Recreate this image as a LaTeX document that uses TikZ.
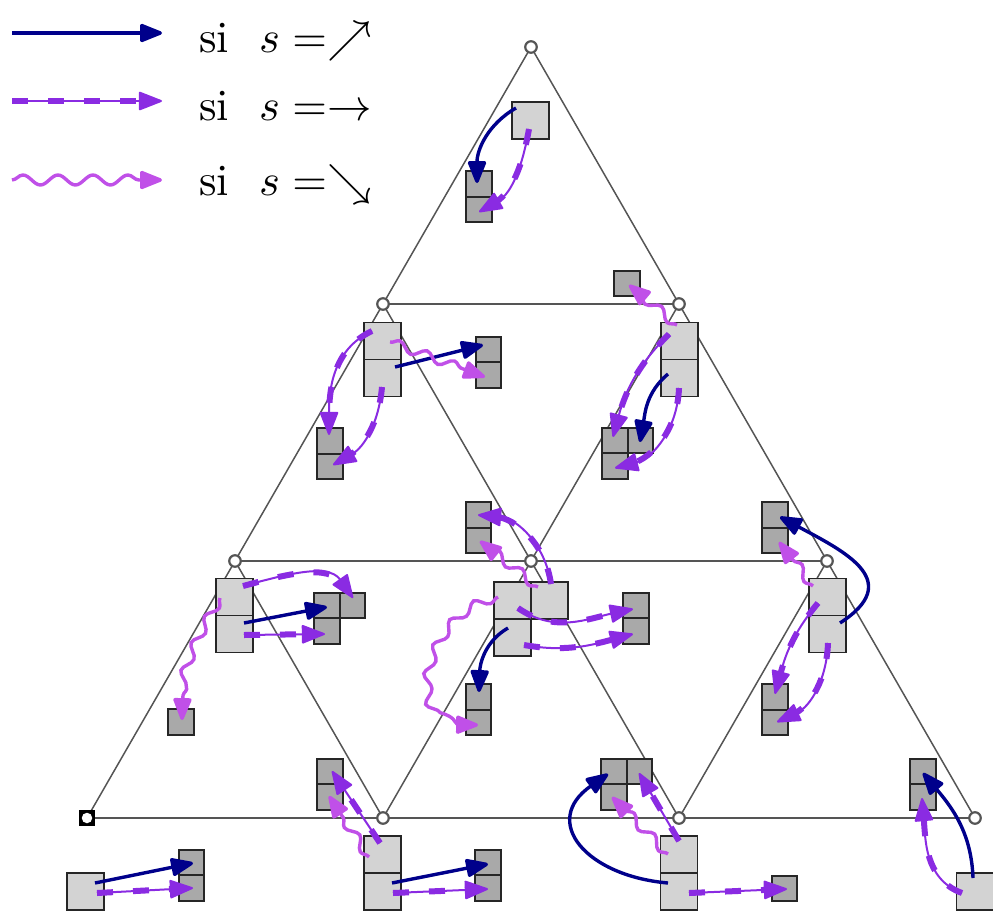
\documentclass[tikz,border=0pt]{standalone}
\usetikzlibrary{arrows.meta,decorations.pathmorphing,calc}
\definecolor{navyc}{HTML}{00008B}
\definecolor{dashc}{HTML}{8A2BE2}
\definecolor{wavec}{HTML}{C050E8}
\definecolor{lightc}{HTML}{D3D3D3}
\definecolor{darkc}{HTML}{A9A9A9}
\definecolor{gridc}{HTML}{555555}
\newcommand{\bigtxt}[1]{\scalebox{4.45}{\normalsize #1}}
\begin{document}
\begin{tikzpicture}[x=1pt,y=-1pt,
  vtx/.style={circle,draw=gridc,fill=white,line width=2.2pt,minimum size=11.5pt,inner sep=0pt},
  gridline/.style={draw=gridc,line width=1.5pt},
  lc/.style={rectangle,draw=black!85,fill=lightc,line width=1.6pt,minimum size=37pt,inner sep=0pt},
  dc/.style={rectangle,draw=black!85,fill=darkc,line width=1.6pt,minimum size=25.5pt,inner sep=0pt},
  solidarrow/.style={draw=navyc,line width=3.4pt,-{Triangle[length=25pt,width=19pt,round]}},
  dasharrow/.style={draw=dashc,line width=2pt,-{Triangle[length=25pt,width=19pt,round]},
     postaction={draw=dashc,line width=6pt,dash pattern=on 16pt off 20pt,shorten >=17pt,-}},
  wavearrow/.style={draw=wavec,line width=3.4pt,-{Triangle[length=25pt,width=19pt,round]},decorate,
     decoration={snake,amplitude=4.5pt,segment length=29pt,post length=12pt}},
  legtext/.style={anchor=base west,inner sep=0pt}
]
\useasboundingbox (0,0) rectangle (993,913);

% ---------- legend ----------
\coordinate (l1s) at (12,33);  \coordinate (l1e) at (162,33);
\coordinate (l2s) at (12,101); \coordinate (l2e) at (162,101);
\coordinate (l3s) at (12,180); \coordinate (l3e) at (162,180);
\draw[solidarrow] (l1s) -- (l1e);
\draw[dasharrow] (l2s) -- (l2e);
\draw[wavearrow,decoration={snake,amplitude=5pt,segment length=35pt,post length=14pt}] (l3s) -- (l3e);
\node[legtext] (t1) at (199,52) {\bigtxt{si}};
\node[legtext] (m1) at (259,52) {\bigtxt{$s=\nearrow$}};
\node[legtext] (t2) at (199,120) {\bigtxt{si}};
\node[legtext] (m2) at (259,120) {\bigtxt{$s=\rightarrow$}};
\node[legtext] (t3) at (199,195) {\bigtxt{si}};
\node[legtext] (m3) at (259,195) {\bigtxt{$s=\searrow$}};

% ---------- grid ----------
\coordinate (p1) at (531,47);
\coordinate (p2) at (383,304);
\coordinate (p3) at (679,304);
\coordinate (p4) at (235,561);
\coordinate (p5) at (531,561);
\coordinate (p6) at (827,561);
\coordinate (p7) at (87,818);
\coordinate (p8) at (383,818);
\coordinate (p9) at (679,818);
\coordinate (p10) at (975,818);
\draw[gridline] (p2) -- (p3) (p4) -- (p5) -- (p6) (p7) -- (p8) -- (p9) -- (p10);
\draw[gridline] (p1) -- (p2) -- (p4) -- (p7) (p3) -- (p5) -- (p8) (p6) -- (p9);
\draw[gridline] (p1) -- (p3) -- (p6) -- (p10) (p2) -- (p5) -- (p9) (p4) -- (p8);
\node[vtx] (v1) at (p1) {};
\node[vtx] (v2) at (p2) {};
\node[vtx] (v3) at (p3) {};
\node[vtx] (v4) at (p4) {};
\node[vtx] (v5) at (p5) {};
\node[vtx] (v6) at (p6) {};
\node[fill=black,minimum size=16pt,inner sep=0pt] (v7sq) at (p7) {};
\node[circle,fill=white,minimum size=10.5pt,inner sep=0pt] (v7) at (p7) {};
\node[vtx] (v8) at (p8) {};
\node[vtx] (v9) at (p9) {};
\node[vtx] (v10) at (p10) {};

% ---------- cells ----------
\node[lc] (LA) at (530.5,120.5) {};
\node[dc] (DA1) at (479,184) {};
\node[dc] (DA2) at (479,209.5) {};
\node[lc] (LB1) at (382.5,341) {};
\node[lc] (LB2) at (382.5,378) {};
\node[dc] (DBL1) at (330,441) {};
\node[dc] (DBL2) at (330,466.5) {};
\node[dc] (DBR1) at (488.5,349.5) {};
\node[dc] (DBR2) at (488.5,375) {};
\node[lc] (LC1) at (679.5,341) {};
\node[lc] (LC2) at (679.5,378) {};
\node[dc] (DC0) at (627,283.5) {};
\node[dc] (DC1) at (615,440.5) {};
\node[dc] (DC2) at (640.5,440.5) {};
\node[dc] (DC3) at (615,466) {};
\node[lc] (LD1) at (234.5,597) {};
\node[lc] (LD2) at (234.5,634) {};
\node[dc] (DD1) at (327,605.5) {};
\node[dc] (DD2) at (352.5,605.5) {};
\node[dc] (DD3) at (327,631) {};
\node[dc] (DD0) at (181,722) {};
\node[lc] (LE1) at (512.5,600.5) {};
\node[lc] (LE2) at (549.5,600.5) {};
\node[lc] (LE3) at (512.5,637.5) {};
\node[dc] (DE1) at (478.5,515) {};
\node[dc] (DE2) at (478.5,540.5) {};
\node[dc] (DE3) at (478.5,697) {};
\node[dc] (DE4) at (478.5,722.5) {};
\node[dc] (DE5) at (636,605.5) {};
\node[dc] (DE6) at (636,631) {};
\node[lc] (LF1) at (827.5,597) {};
\node[lc] (LF2) at (827.5,634) {};
\node[dc] (DF1) at (775,515) {};
\node[dc] (DF2) at (775,540.5) {};
\node[dc] (DF3) at (775,697) {};
\node[dc] (DF4) at (775,722.5) {};
\node[lc] (LG) at (85.5,891.5) {};
\node[dc] (DG1) at (191.5,862.5) {};
\node[dc] (DG2) at (191.5,888) {};
\node[lc] (LH1) at (382.5,854.5) {};
\node[lc] (LH2) at (382.5,891.5) {};
\node[dc] (DH1) at (330,771.5) {};
\node[dc] (DH2) at (330,797) {};
\node[dc] (DH3) at (488,862.5) {};
\node[dc] (DH4) at (488,888) {};
\node[lc] (LI1) at (679,854.5) {};
\node[lc] (LI2) at (679,891.5) {};
\node[dc] (DI1) at (614,771.5) {};
\node[dc] (DI2) at (639.5,771.5) {};
\node[dc] (DI3) at (614,797) {};
\node[dc] (DI0) at (784.5,888.5) {};
\node[lc] (LJ) at (975,891.5) {};
\node[dc] (DJ1) at (923,771.5) {};
\node[dc] (DJ2) at (923,797) {};

% ---------- arrows ----------
% A
\draw[solidarrow] ($(LA)+(-14.5,-12.5)$) to[out=210,in=90] ($(DA1)+(-2,-1)$);
\draw[dasharrow] ($(LA)+(-1.5,8.5)$) to[out=260,in=30] ($(DA2)+(0,2.5)$);
% B
\draw[dasharrow] ($(LB1)+(-10.5,-10)$) to[out=205,in=90] ($(DBL1)+(-1,-6)$);
\draw[dasharrow] ($(LB2)+(-0.5,9)$) to[out=265,in=30] ($(DBL2)+(3,-1.5)$);
\draw[solidarrow] ($(LB2)+(12.5,-11)$) -- ($(DBR1)+(-5.5,-4.5)$);
\draw[wavearrow] ($(LB1)+(7.5,1)$) -- ($(DBR2)+(-3.5,2)$);
% C
\draw[wavearrow] ($(LC1)+(-2.5,-16)$) -- ($(DC0)+(2,1.5)$);
\draw[dasharrow] ($(LC1)+(-10.5,-7)$) to[out=225,in=75] ($(DC1)+(-2,-3.5)$);
\draw[solidarrow] ($(LC2)+(-11.5,-4)$) to[out=220,in=80] ($(DC2)+(-0.5,1.5)$);
\draw[dasharrow] ($(LC2)+(-0.5,10)$) to[out=268,in=15] ($(DC3)+(0,2)$);
% D
\draw[dasharrow] ($(LD1)+(8.5,-11)$) to[out=15,in=125] ($(DD2)+(0.5,-7.5)$);
\draw[solidarrow] ($(LD2)+(9.5,-11)$) -- ($(DD1)+(0,1.5)$);
\draw[dasharrow] ($(LD2)+(9.5,1)$) -- ($(DD3)+(-2,3)$);
\draw[wavearrow] ($(LD1)+(-14.5,1)$) to[out=240,in=90] ($(DD0)+(1,-2)$);
% E
\draw[dasharrow] ($(LE2)+(1.5,-16.5)$) to[out=98,in=-5] ($(DE1)+(-0.5,0)$);
\draw[wavearrow] ($(LE2)+(-11.5,-13.5)$) -- ($(DE2)+(1.5,0.5)$);
\draw[wavearrow] ($(LE1)+(-14.5,-3.5)$) to[out=195,in=185,looseness=1.4] ($(DE4)+(-0.5,2.5)$);
\draw[solidarrow] ($(LE3)+(-4.5,-9.5)$) to[out=210,in=88] ($(DE3)+(0.5,-5)$);
\draw[dasharrow] ($(LE1)+(5.5,7.5)$) to[out=-35,in=192] ($(DE5)+(-3,3.5)$);
\draw[dasharrow] ($(LE3)+(11.5,7.5)$) to[out=-10,in=195] ($(DE6)+(-3,3)$);
% F
\draw[wavearrow] ($(LF1)+(-14.5,-11)$) -- ($(DF2)+(4,1.5)$);
\draw[solidarrow] ($(LF2)+(12.5,-11)$) to[out=33,in=-28,looseness=1.6] ($(DF1)+(5,2)$);
\draw[dasharrow] ($(LF1)+(-9.5,6)$) to[out=230,in=75] ($(DF3)+(0,-3)$);
\draw[dasharrow] ($(LF2)+(0.5,9)$) to[out=268,in=25] ($(DF4)+(2,-0.5)$);
% G
\draw[solidarrow] ($(LG)+(9.5,-8.5)$) -- ($(DG1)+(1.5,0.5)$);
\draw[dasharrow] ($(LG)+(11.5,1.5)$) -- ($(DG2)+(1.5,0)$);
% H
\draw[dasharrow] ($(LH1)+(-2.5,-11.5)$) -- ($(DH1)+(2,-0.5)$);
\draw[wavearrow] ($(LH1)+(-13.5,2.5)$) -- ($(DH2)+(-1,-1)$);
\draw[solidarrow] ($(LH2)+(9.5,-8.5)$) -- ($(DH3)+(0,1.5)$);
\draw[dasharrow] ($(LH2)+(10.5,1.5)$) -- ($(DH4)+(0,1)$);
% I
\draw[dasharrow] ($(LI1)+(0,-13.5)$) -- ($(DI2)+(-0.5,1.5)$);
\draw[wavearrow] ($(LI1)+(-11,-0.5)$) -- ($(DI3)+(-2,0)$);
\draw[solidarrow] ($(LI2)+(-11,-8.5)$) to[out=175,in=215,looseness=1.7] ($(DI1)+(-6,2.5)$);
\draw[dasharrow] ($(LI2)+(10,1.5)$) -- ($(DI0)+(2.5,0.5)$);
% J
\draw[solidarrow] ($(LJ)+(-2,-13.5)$) to[out=92,in=-50] ($(DJ1)+(0,1.5)$);
\draw[dasharrow] ($(LJ)+(-13,1.5)$) to[out=160,in=-85] ($(DJ2)+(-1,1)$);
\end{tikzpicture}
\end{document}
